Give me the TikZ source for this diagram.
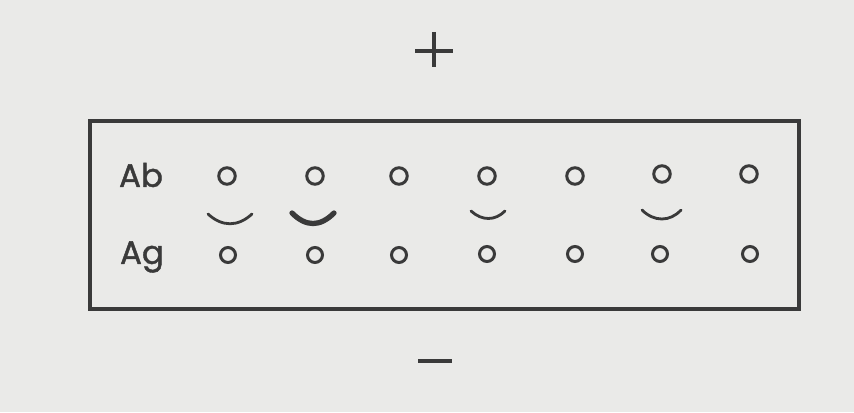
\documentclass[tikz,border=0pt]{standalone}
\usepackage{fontspec}
\newfontfamily\labelfont[FakeBold=1.3]{Poppins}
\usepackage{tikz}
\usetikzlibrary{positioning}

\definecolor{paper}{RGB}{234,234,232}
\definecolor{ink}{RGB}{58,58,58}

\begin{document}
\begin{tikzpicture}[x=0.02cm,y=-0.02cm]

% --- STYLES ---
\tikzset{
  rowlabel/.style={font=\labelfont\fontsize{18.5}{18.5}\selectfont, text=ink, inner sep=0pt},
  abwell/.style={circle, draw=ink, line width=1.7pt, minimum size=0.33cm, inner sep=0pt},
  agwell/.style={circle, draw=ink, line width=1.7pt, minimum size=0.30cm, inner sep=0pt},
  plate/.style={draw=ink, line width=1.8pt},
  sign/.style={ink, line width=2.3pt},
  precip/.style={ink, line width=1.6pt, line cap=round},
  strong/.style={ink, line width=3.0pt, line cap=round},
}

% ================= PAPER & BOUNDING BOX =================
\fill[paper] (0,0) rectangle (854,412);
\useasboundingbox (0,0) rectangle (854,412);

% ================= GEL PLATE =================
\draw[plate] (90,121) rectangle (799,309);

% ================= ELECTRODES =================
\coordinate (plusL) at (415,51);
\coordinate (plusR) at (453,51);
\coordinate (plusT) at (434,32);
\coordinate (plusB) at (434,67);
\draw[sign] (plusL) -- (plusR);
\draw[sign] (plusT) -- (plusB);

\coordinate (minusL) at (418,361);
\coordinate (minusR) at (452,361);
\draw[sign] (minusL) -- (minusR);

% ================= ROW LABELS =================
\node[rowlabel] (ab) at (141,175) {Ab};
\node[rowlabel] (ag) at (142,257) {Ag};

% ================= ANTIBODY WELLS =================
\node[abwell] (ab1) at (227,176) {};
\node[abwell] (ab2) at (315,176) {};
\node[abwell] (ab3) at (399,176) {};
\node[abwell] (ab4) at (487,176) {};
\node[abwell] (ab5) at (575,176) {};
\node[abwell] (ab6) at (662,174) {};
\node[abwell] (ab7) at (749,174) {};

% ================= ANTIGEN WELLS =================
\node[agwell] (ag1) at (228,255) {};
\node[agwell] (ag2) at (315,255) {};
\node[agwell] (ag3) at (399,255) {};
\node[agwell] (ag4) at (487,254) {};
\node[agwell] (ag5) at (575,254) {};
\node[agwell] (ag6) at (660,254) {};
\node[agwell] (ag7) at (750,254) {};

% ================= PRECIPITIN ARCS =================
\draw[precip] (208,214) .. controls (222,227) and (238,227) .. (252,214);
\draw[strong] (292,213) .. controls (306,227) and (320,227) .. (334,213);
\draw[precip] (471,211) .. controls (482,221) and (495,221) .. (505,211);
\draw[precip] (642,210) .. controls (654,222) and (670,222) .. (681,210);

\end{tikzpicture}
\end{document}
